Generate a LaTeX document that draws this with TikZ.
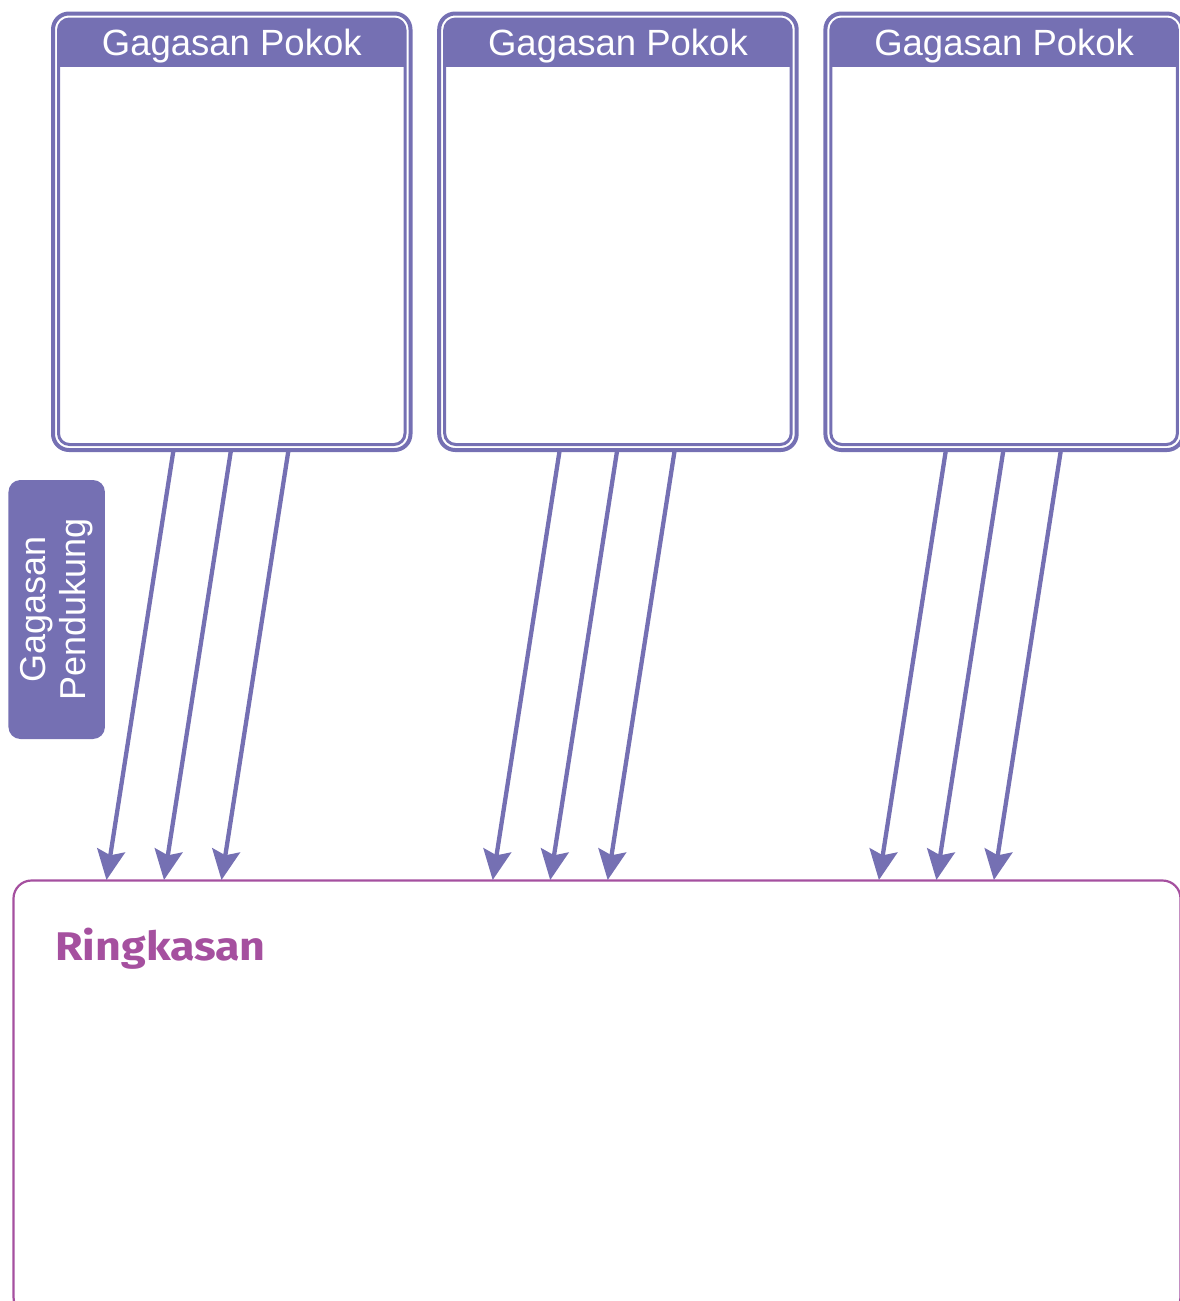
\documentclass[tikz,border=0pt]{standalone}
\usepackage{fontspec}
\setmainfont{Liberation Sans}
\newfontfamily\rfont{Fira Sans}
\usetikzlibrary{arrows.meta,calc}
\definecolor{gp}{RGB}{117,112,179}
\definecolor{rk}{RGB}{165,80,159}
\begin{document}
\begin{tikzpicture}[x=1pt,y=-1pt,
  outerbox/.style={draw=gp, line width=4pt, rounded corners=16pt, minimum width=357.5pt, minimum height=436.5pt, inner sep=0pt, outer sep=0pt},
  innerbox/.style={draw=gp, line width=3pt, rounded corners=11pt, minimum width=346.5pt, minimum height=425.5pt, inner sep=0pt, outer sep=0pt},
  headtext/.style={text=white, font=\fontsize{36.5}{40}\selectfont, inner sep=0pt, anchor=base},
  pendbox/.style={fill=gp, rounded corners=12pt, minimum width=259pt, minimum height=96.5pt, text=white, align=center, font=\fontsize{36}{40}\selectfont, inner sep=0pt},
  ringbox/.style={draw=rk, line width=2.2pt, rounded corners=18pt, minimum width=1167pt, minimum height=434.5pt, inner sep=0pt, outer sep=0pt},
  ringtext/.style={text=rk, font=\rfont\bfseries\fontsize{40}{48}\selectfont, inner sep=0pt, anchor=base west},
  arr/.style={draw=gp, line width=4.3pt, -{Stealth[length=30pt,width=28pt,inset=5pt]}}
]
\useasboundingbox (0,0) rectangle (1180,1301);
\clip (0,0) rectangle (1180,1301);

% summary box
\node[ringbox] (ring) at (597,1097.75) {};
\node[ringtext] (ringtitle) at (55,960) {\scalebox{1.12}[1]{Ringkasan}};

% supporting label
\node[pendbox, rotate=90] (pend) at (56.7,609.5) {Gagasan\\Pendukung};

\foreach \i/\L in {1/53,2/439.2,3/825.4} {
  \node[outerbox] (box\i) at (\L+178.75,231.75) {};
  \begin{scope}
    \clip[rounded corners=11pt] (\L+5.5,19) rectangle (\L+352,444.5);
    \fill[gp] (\L,13) rectangle (\L+360,67);
  \end{scope}
  \node[innerbox] (inner\i) at (\L+178.75,231.75) {};
  \node[headtext] (head\i) at (\L+178.75,55) {Gagasan Pokok};
  \coordinate (s\i a) at ($(box\i.south west)+(120.5,0)$);
  \coordinate (s\i b) at ($(box\i.south west)+(178,0)$);
  \coordinate (s\i c) at ($(box\i.south west)+(235.5,0)$);
  \coordinate (e\i a) at (\L+53.5,880);
  \coordinate (e\i b) at (\L+111,880);
  \coordinate (e\i c) at (\L+168.5,880);
  \draw[arr] (s\i a) -- (e\i a);
  \draw[arr] (s\i b) -- (e\i b);
  \draw[arr] (s\i c) -- (e\i c);
}
\end{tikzpicture}
\end{document}
